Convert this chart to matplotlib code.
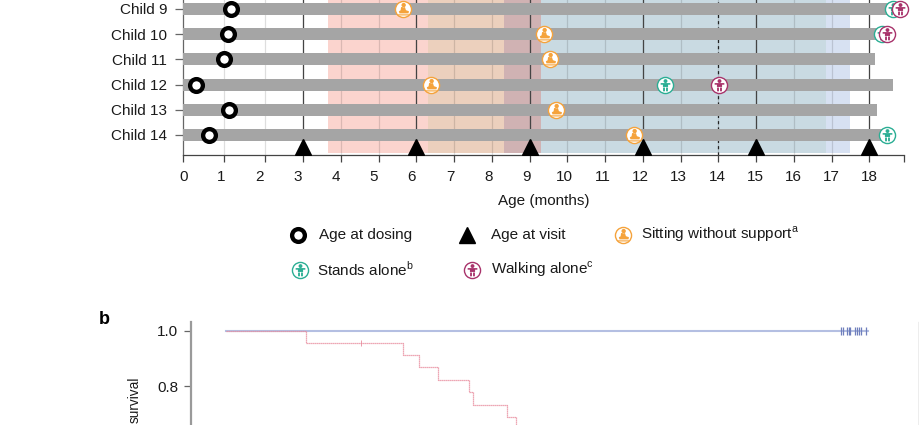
import matplotlib
matplotlib.use("Agg")
import matplotlib.pyplot as plt
import numpy as np
from matplotlib.path import Path

plt.rcParams['font.family'] = ['Liberation Sans', 'DejaVu Sans']
plt.rcParams['mathtext.fontset'] = 'custom'
plt.rcParams['mathtext.rm'] = 'Liberation Sans'

# panel a
children = ["Child 9", "Child 10", "Child 11", "Child 12", "Child 13", "Child 14"]
rows = [9, 10, 11, 12, 13, 14]
last_age = [18.7, 18.4, 18.17, 18.67, 18.22, 18.5]
dosing = [1.16, 1.08, 0.985, 0.31, 1.11, 0.63]
sitting = [5.64, 9.38, 9.55, 6.38, 9.7, 11.76]
stands = [18.68, 18.35, np.nan, 12.58, np.nan, 18.52]
walking = [18.88, 18.51, np.nan, 14.01, np.nan, np.nan]
visits = [3, 6, 9, 12, 15, 18]
band_edges = [3.66, 6.3, 8.32, 9.3, 16.85, 17.48]
band_colors = ["#fbd4ce", "#ecd0bd", "#d0b2b3", "#c9dae2", "#d7e1f2"]

# panel b
km_time = [0, 2.5, 5.5, 6.0, 6.6, 7.56, 7.69, 8.77, 9.02]
km_surv = [1.0, 0.958, 0.913, 0.868, 0.822, 0.777, 0.731, 0.686, 0.64]
km_censor_time = [4.2]
km_censor_surv = [0.958]
treated_time = [0, 20.0]
treated_surv = [1.0, 1.0]
treated_censor = [19.17, 19.23, 19.35, 19.41, 19.45, 19.59, 19.65, 19.72, 19.77, 19.94]

W, H = 920, 425
GREY = "#a5a5a5"
SIT = "#f5a33c"
STAND = "#2bae94"
WALK = "#a8336b"
INK = "#1a1a1a"
FS = 11


def rect(left, top, right, bottom):
    return [left / W, 1 - bottom / H, (right - left) / W, (bottom - top) / H]


def sit_marker():
    # seated baby seen from the side, on a mat
    body = Path([(-0.3, 0.3), (0.18, 0.3), (0.3, -0.08), (0.68, -0.22), (0.62, -0.48),
                 (-0.5, -0.48), (-0.58, -0.22), (-0.36, -0.1), (-0.3, 0.3)], closed=True)
    base = Path([(-0.8, -0.6), (0.72, -0.6), (0.62, -0.74), (-0.7, -0.74), (-0.8, -0.6)], closed=True)
    head = Path.circle((0.02, 0.55), 0.27)
    # the far corner only fixes the marker's scale
    return Path.make_compound_path(head, body, base, Path([(1, 1), (1, 1)]))


def stand_marker():
    body = Path([(-0.6, 0.3), (0.6, 0.3), (0.6, 0.1), (0.32, 0.1), (0.32, -0.18), (-0.32, -0.18),
                 (-0.32, 0.1), (-0.6, 0.1), (-0.6, 0.3)], closed=True)
    leg_l = Path([(-0.3, -0.25), (-0.07, -0.25), (-0.07, -0.72), (-0.3, -0.72), (-0.3, -0.25)], closed=True)
    leg_r = Path([(0.07, -0.25), (0.3, -0.25), (0.3, -0.72), (0.07, -0.72), (0.07, -0.25)], closed=True)
    head = Path.circle((0, 0.55), 0.24)
    return Path.make_compound_path(head, body, leg_l, leg_r, Path([(1, 1), (1, 1)]))


def draw_icon(ax, x, y, color, marker, **kw):
    ax.plot(x, y, ls="none", marker="o", ms=11.6, mfc="white", mec=color, mew=1.0, **kw)
    ax.plot(x, y, ls="none", marker=marker, ms=11.6, mfc=color, mec="none", **kw)


sit_icon = sit_marker()
stand_icon = stand_marker()

fig = plt.figure(figsize=(W / 100, H / 100), dpi=100)

# the age axis is a little wider below 2 months than above it
brk_age = [0, 2, 18, 19]
brk_pos = [183.3, 265.5, 869.4, 904]

ax = fig.add_axes(rect(183.3, 0, 904, 155))
ax.set_xscale("function", functions=(lambda v: np.interp(v, brk_age, brk_pos),
                                     lambda v: np.interp(v, brk_pos, brk_age)))
ax.set_xlim(0, 19)
ax.set_ylim(14.794, 8.643)

for i in range(len(band_colors)):
    ax.axvspan(band_edges[i], band_edges[i + 1], ymin=0.01, color=band_colors[i], lw=0, zorder=1)
for m in range(1, 19):
    ax.axvline(m, color="black", alpha=0.13, lw=0.9, zorder=2)
for v in visits:
    ax.axvline(v, color="#444444", lw=0.9, zorder=2)
ax.axvline(14, color="#222222", lw=0.9, ls=(0, (2.5, 2.5)), zorder=2)

ax.barh(rows, last_age, height=0.47, color=GREY, zorder=3)
ax.plot(dosing, rows, ls="none", marker="o", ms=9.2, mfc="white", mec="black", mew=3.1, zorder=4)
ax.plot(visits, [14.48] * len(visits), ls="none", marker="^", ms=11, color="black", zorder=5)
draw_icon(ax, sitting, rows, SIT, sit_icon, zorder=6, clip_on=False)
draw_icon(ax, stands, rows, STAND, stand_icon, zorder=7, clip_on=False)
draw_icon(ax, walking, rows, WALK, stand_icon, zorder=8, clip_on=False)

ax.set_yticks(rows)
ax.set_yticklabels(children, fontsize=FS, color=INK)
ax.set_xticks(list(range(20)))
ax.set_xticklabels([])
ax.tick_params(axis="y", length=5.5, width=0.9, color="#666666", pad=6)
ax.tick_params(axis="x", length=5, width=0.9, color="#444444")
ax.spines[["top", "right"]].set_visible(False)
ax.spines["left"].set_color("#666666")
ax.spines["bottom"].set_color("#444444")
for s in ["left", "bottom"]:
    ax.spines[s].set_linewidth(0.9)

# month labels sit on an even spacing, unlike the ticks
lab = fig.add_axes(rect(183.3, 0, 869.4, 155), frameon=False)
lab.set_xlim(0, 18)
lab.set_yticks([])
lab.set_xticks(list(range(19)))
lab.tick_params(axis="x", length=0, pad=10.5, labelsize=FS, labelcolor=INK)

# panel b
axb = fig.add_axes(rect(190.7, 322, 919.3, 425))
axb.set_xlim(-1.1, 21.6)
axb.set_ylim(1 - (425 - 331) / 275, 1 + 9 / 275)
axb.plot(treated_time, treated_surv, color="#b4bfe2", lw=1.5, zorder=2)
axb.plot(treated_censor, [1.0] * len(treated_censor), ls="none", marker="|", ms=5.5, mew=0.9,
         color="#6f7fbd", zorder=3)
axb.step(km_time, km_surv, where="post", color="#e88a9c", lw=0.9, ls=(0, (1, 0.6)), zorder=4)
axb.plot(km_censor_time, km_censor_surv, ls="none", marker="|", ms=4.5, mew=0.6, color="#e88a9c", zorder=4)
axb.set_xticks([])
axb.set_yticks([0.8, 1.0])
axb.set_yticklabels(["0.8", "1.0"], fontsize=FS, color=INK)
axb.tick_params(axis="y", length=5, width=0.9, color="#666666", pad=4)
axb.spines[["top", "bottom"]].set_visible(False)
axb.spines["left"].set_color("#9a9a9a")
axb.spines["left"].set_linewidth(1.6)
axb.spines["right"].set_color("#777777")
axb.spines["right"].set_linewidth(0.9)

# legend and loose text, placed in pixels
top = fig.add_axes([0, 0, 1, 1], frameon=False)
top.set_xlim(0, W)
top.set_ylim(H, 0)
top.set_xticks([])
top.set_yticks([])
txt = dict(fontsize=FS, va="center", color=INK)
top.text(544, 201, "Age (months)", ha="center", **txt)
top.plot(298, 235, marker="o", ms=9.2, mfc="white", mec="black", mew=3.1)
top.text(319, 235, "Age at dosing", **txt)
top.plot(467, 235, marker="^", ms=11, color="black")
top.text(491, 235, "Age at visit", **txt)
draw_icon(top, 623, 234.5, SIT, sit_icon)
top.text(641, 234, r"Sitting without support$^{\mathrm{a}}$", **txt)
draw_icon(top, 300, 270, STAND, stand_icon)
top.text(317, 269, r"Stands alone$^{\mathrm{b}}$", **txt)
draw_icon(top, 472, 269.5, WALK, stand_icon)
top.text(491, 269, r"Walking alone$^{\mathrm{c}}$", **txt)
top.text(104.5, 320, "b", fontsize=13, fontweight="bold", ha="center", va="center", color="black")
top.text(135, 377, "survival", fontsize=9.8, rotation=90, ha="center", va="top", color=INK)

fig.savefig("out.png", dpi=100)
